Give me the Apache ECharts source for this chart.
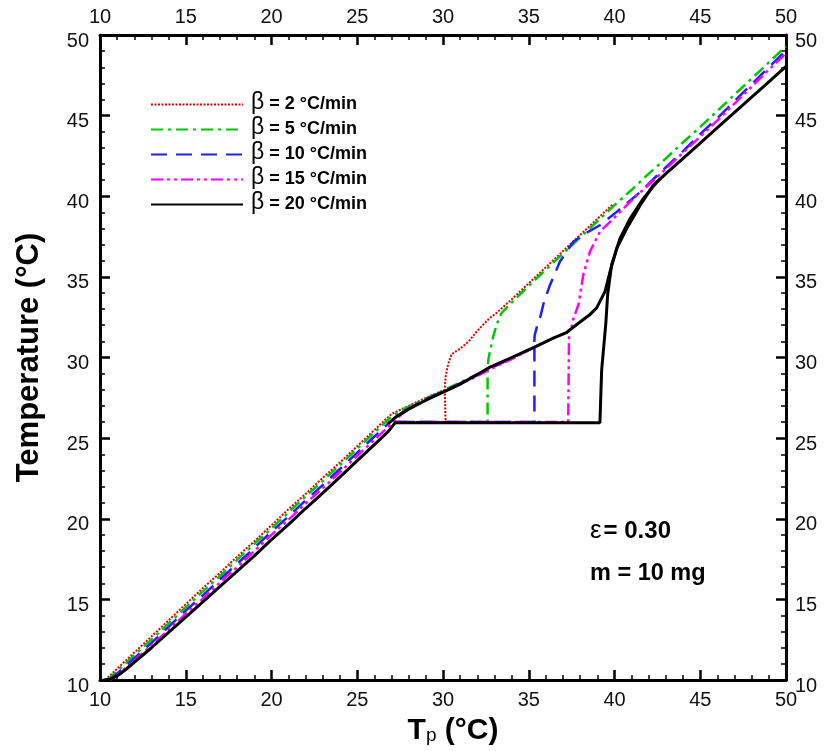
<!DOCTYPE html>
<html>
<head>
<meta charset="utf-8">
<script src="https://cdn.jsdelivr.net/npm/echarts@6/dist/echarts.min.js"></script>
<style>
html,body{margin:0;padding:0;background:#fff;}
#chart{width:826px;height:751px;}
</style>
</head>
<body>
<div id="chart"></div>
<script>
// ---- Data ----
const seriesNames = ['β = 2 °C/min','β = 5 °C/min','β = 10 °C/min','β = 15 °C/min','β = 20 °C/min'];
const betaLabels = ['= 2 °C/min','= 5 °C/min','= 10 °C/min','= 15 °C/min','= 20 °C/min'];

const redMain = [[10.3,10.0],[11,10.7],[12,11.7],[13,12.7],[14,13.7],[15,14.7],[16,15.7],[17,16.65],[18,17.65],[19,18.6],[20,19.6],[21,20.6],[22,21.55],[23,22.55],[24,23.5],[25,24.5],[26,25.5],[27,26.5],[27.6,26.8],[28,27.0],[29,27.5],[30.1,28.0],[30.15,28.8],[30.3,29.6],[30.5,30.2],[31.0,30.55],[31.5,31.0],[31.96,31.6],[32.4,32.1],[32.74,32.46],[33.13,32.77],[34,33.6],[35,34.6],[36,35.6],[37,36.6],[38,37.6],[39,38.6],[39.9,39.5]];
const redPlateau = [[27.2,26.0],[30.15,26.0],[30.1,28.0]];

const greenMain = [[10.4,10.0],[11,10.55],[12,11.55],[13,12.5],[14,13.5],[15,14.5],[16,15.5],[17,16.45],[18,17.45],[19,18.45],[20,19.4],[21,20.4],[22,21.4],[23,22.35],[24,23.35],[25,24.35],[26,25.35],[27,26.35],[27.6,26.75],[28,26.95],[29,27.45],[30,27.95],[31,28.45],[32,28.95],[32.6,29.3],[32.65,29.9],[32.74,30.4],[32.93,31.3],[33.13,32.05],[33.42,32.77],[34,33.4],[35,34.45],[36,35.45],[37,36.45],[38,37.45],[39,38.45],[40,39.45],[41,40.4],[42,41.4],[43,42.35],[44,43.35],[45,44.3],[46,45.3],[47,46.3],[48,47.3],[49,48.3],[50,49.3]];
const greenPlateau = [[27.2,26.0],[32.6,26.0],[32.6,29.3]];

const blueMain = [[10.5,10.0],[11,10.4],[12,11.35],[13,12.3],[14,13.3],[15,14.3],[16,15.25],[17,16.25],[18,17.2],[19,18.2],[20,19.2],[21,20.15],[22,21.15],[23,22.1],[24,23.1],[25,24.1],[26,25.1],[27,26.1],[27.6,26.6],[28,26.85],[29,27.4],[30,27.9],[31,28.4],[32,28.9],[33,29.45],[34,29.95],[35.3,30.6],[35.35,31.4],[35.5,32.0],[35.66,32.46],[35.9,33.5],[36.24,34.5],[36.82,35.95],[37.6,37.18],[38.3,37.7],[39.15,38.2],[40.13,39.03],[41.5,40.26],[42.5,41.3],[43,41.8],[44,42.8],[45,43.85],[46,44.85],[47,45.9],[48,46.95],[49,48.0],[50,49.05]];
const bluePlateau = [[27.2,26.0],[35.33,26.0],[35.33,30.6]];

const magentaMain = [[10.6,10.0],[11,10.3],[12,11.2],[13,12.15],[14,13.1],[15,14.1],[16,15.05],[17,16.05],[18,17.0],[19,18.0],[20,19.0],[21,19.95],[22,20.95],[23,21.9],[24,22.9],[25,23.9],[26,24.9],[27,25.9],[27.6,26.5],[28,26.8],[29,27.35],[30,27.85],[31,28.35],[32,28.85],[33,29.4],[34,29.9],[35,30.45],[36,31.0],[37.3,31.6],[37.5,31.9],[37.6,32.4],[37.9,33.28],[38.18,35.13],[38.57,36.57],[39.15,37.8],[40.13,38.82],[41.1,39.85],[42.5,41.2],[44,42.7],[45,43.7],[46,44.7],[47,45.75],[48,46.8],[49,47.85],[50,48.85]];
const magentaPlateau = [[27.2,26.0],[37.3,26.0],[37.35,31.6]];

const blackMain = [[10.2,10.0],[10.6,10.05],[11,10.25],[11.5,10.65],[12,11.1],[12.5,11.55],[13,12.0],[14,12.95],[15,13.9],[16,14.85],[17,15.8],[18,16.75],[19,17.7],[20,18.7],[21,19.65],[22,20.65],[23,21.6],[24,22.6],[25,23.6],[26,24.6],[26.8,25.4],[27.2,25.95],[30,25.95],[35,25.95],[39.15,25.95],[39.25,29.2],[39.5,32.2],[39.6,33.9],[39.83,35.74],[40.32,37.38],[40.9,38.6],[41.68,39.85],[42.46,40.87],[43,41.4],[44,42.35],[45,43.3],[46,44.25],[47,45.2],[48,46.15],[49,47.1],[50,48.05]];
const blackBranch = [[26.8,25.9],[27.3,26.35],[28,26.8],[29,27.35],[30.2,27.95],[31,28.35],[32,28.95],[32.74,29.4],[34,30.0],[35.46,30.7],[36.43,31.2],[37.2,31.55],[37.99,32.2],[38.5,32.6],[38.96,33.08],[39.45,34.1],[39.74,35.33],[40.13,36.77],[40.71,38.0],[41.49,39.43],[42.25,40.66],[42.7,41.1]];

const xMin = 10, xMax = 50, xStep = 5;
const yMin = 10, yMax = 50, yStep = 5;

// ---- Styles ----
const styles = [
  {color:'#e00000', width:2,   type:[2,1.5]},
  {color:'#00c800', width:2.5, type:[12,5,3,5]},
  {color:'#1e1eff', width:2.5, type:[16,9]},
  {color:'#ff00ff', width:2.5, type:[12,4,3,4,3,4]},
  {color:'#000000', width:3,   type:'solid'}
];
const dataSets = [[redMain, redPlateau],[greenMain, greenPlateau],[blueMain, bluePlateau],[magentaMain, magentaPlateau],[blackMain, blackBranch]];

const series = [];
dataSets.forEach((pair, i) => {
  pair.forEach(d => {
    series.push({
      name: seriesNames[i], type:'line', data:d, symbol:'none', smooth:false,
      xAxisIndex:0, yAxisIndex:0,
      lineStyle:{color:styles[i].color, width:styles[i].width, type:styles[i].type},
      itemStyle:{color:styles[i].color},
      animation:false, z: 2 + i
    });
  });
});

const FONT = "'Liberation Sans', Arial, sans-serif";
const labelStyle = {color:'#111', fontSize:20, fontFamily:FONT};

function xAx(pos){
  return {
    type:'value', position:pos, min:xMin, max:xMax, interval:xStep, gridIndex:0,
    axisLine:{onZero:false, lineStyle:{color:'#000', width:3}},
    axisTick:{inside:true, length:10, lineStyle:{color:'#000', width:2.5}},
    minorTick:{show:true, splitNumber:5, length:5, lineStyle:{color:'#000', width:1.5}},
    splitLine:{show:false}, minorSplitLine:{show:false},
    axisLabel:Object.assign({margin: pos==='bottom'?10:8}, labelStyle)
  };
}
function yAx(pos){
  return {
    type:'value', position:pos, min:yMin, max:yMax, interval:yStep, gridIndex:0,
    axisLine:{onZero:false, lineStyle:{color:'#000', width:3}},
    axisTick:{inside:true, length:10, lineStyle:{color:'#000', width:2.5}},
    minorTick:{show:true, splitNumber:5, length:5, lineStyle:{color:'#000', width:1.5}},
    splitLine:{show:false}, minorSplitLine:{show:false},
    axisLabel:Object.assign({
      margin: pos==='left'?11:9,
      formatter:function(v){ return '{v|' + v + '}'; },
      rich:{v:{fontSize:20, fontFamily:FONT, color:'#111', padding:[12,0,0,0]}}
    }, labelStyle)
  };
}

const xBottom = xAx('bottom');
xBottom.name = '{a|T}{s|p}{a| (°C)}';
xBottom.nameLocation = 'middle';
xBottom.nameGap = 36;
xBottom.nameTextStyle = {padding:[0,0,0,20], rich:{
  a:{fontSize:30, fontWeight:'bold', fontFamily:FONT, color:'#000'},
  s:{fontSize:19, fontWeight:'normal', fontFamily:FONT, color:'#000', padding:[10,0,0,0]}
}};
const xTop = xAx('top');

const yLeft = yAx('left');
yLeft.name = 'Temperature (°C)';
yLeft.nameLocation = 'middle';
yLeft.nameGap = 55;
yLeft.nameTextStyle = {fontSize:31, fontWeight:'bold', fontFamily:FONT, color:'#000'};
const yRight = yAx('right');

const option = {
  backgroundColor:'#fff',
  animation:false,
  grid:{left:100, right:40, top:35, bottom:66, containLabel:false},
  xAxis:[xBottom, xTop],
  yAxis:[yLeft, yRight],
  legend:{
    orient:'vertical', left:145, top:86, itemWidth:92, itemHeight:14, itemGap:2,
    data:seriesNames,
    itemStyle:{opacity:0},
    formatter:function(name){ const i = seriesNames.indexOf(name); return '{b|β}{t|' + betaLabels[i] + '}'; },
    textStyle:{rich:{
      b:{fontSize:23, fontFamily:FONT, color:'#000', padding:[0,5,4,3]},
      t:{fontSize:18, fontWeight:'bold', fontFamily:FONT, color:'#000'}
    }},
    selectedMode:false
  },
  graphic:[
    {type:'text', left:590, top:518, style:{text:'{e|ε}{t|= 0.30}', rich:{
      e:{fontSize:26, fontFamily:FONT, fill:'#000', padding:[0,2,0,0]},
      t:{fontSize:24, fontWeight:'bold', fontFamily:FONT, fill:'#000'}}}},
    {type:'text', left:590, top:562, style:{text:'m = 10 mg', fontSize:23.5, fontWeight:'bold', fontFamily:FONT, fill:'#000'}}
  ],
  series:series
};

const chart = echarts.init(document.getElementById('chart'), null, {renderer:'canvas'});
chart.setOption(option);
</script>
</body>
</html>
